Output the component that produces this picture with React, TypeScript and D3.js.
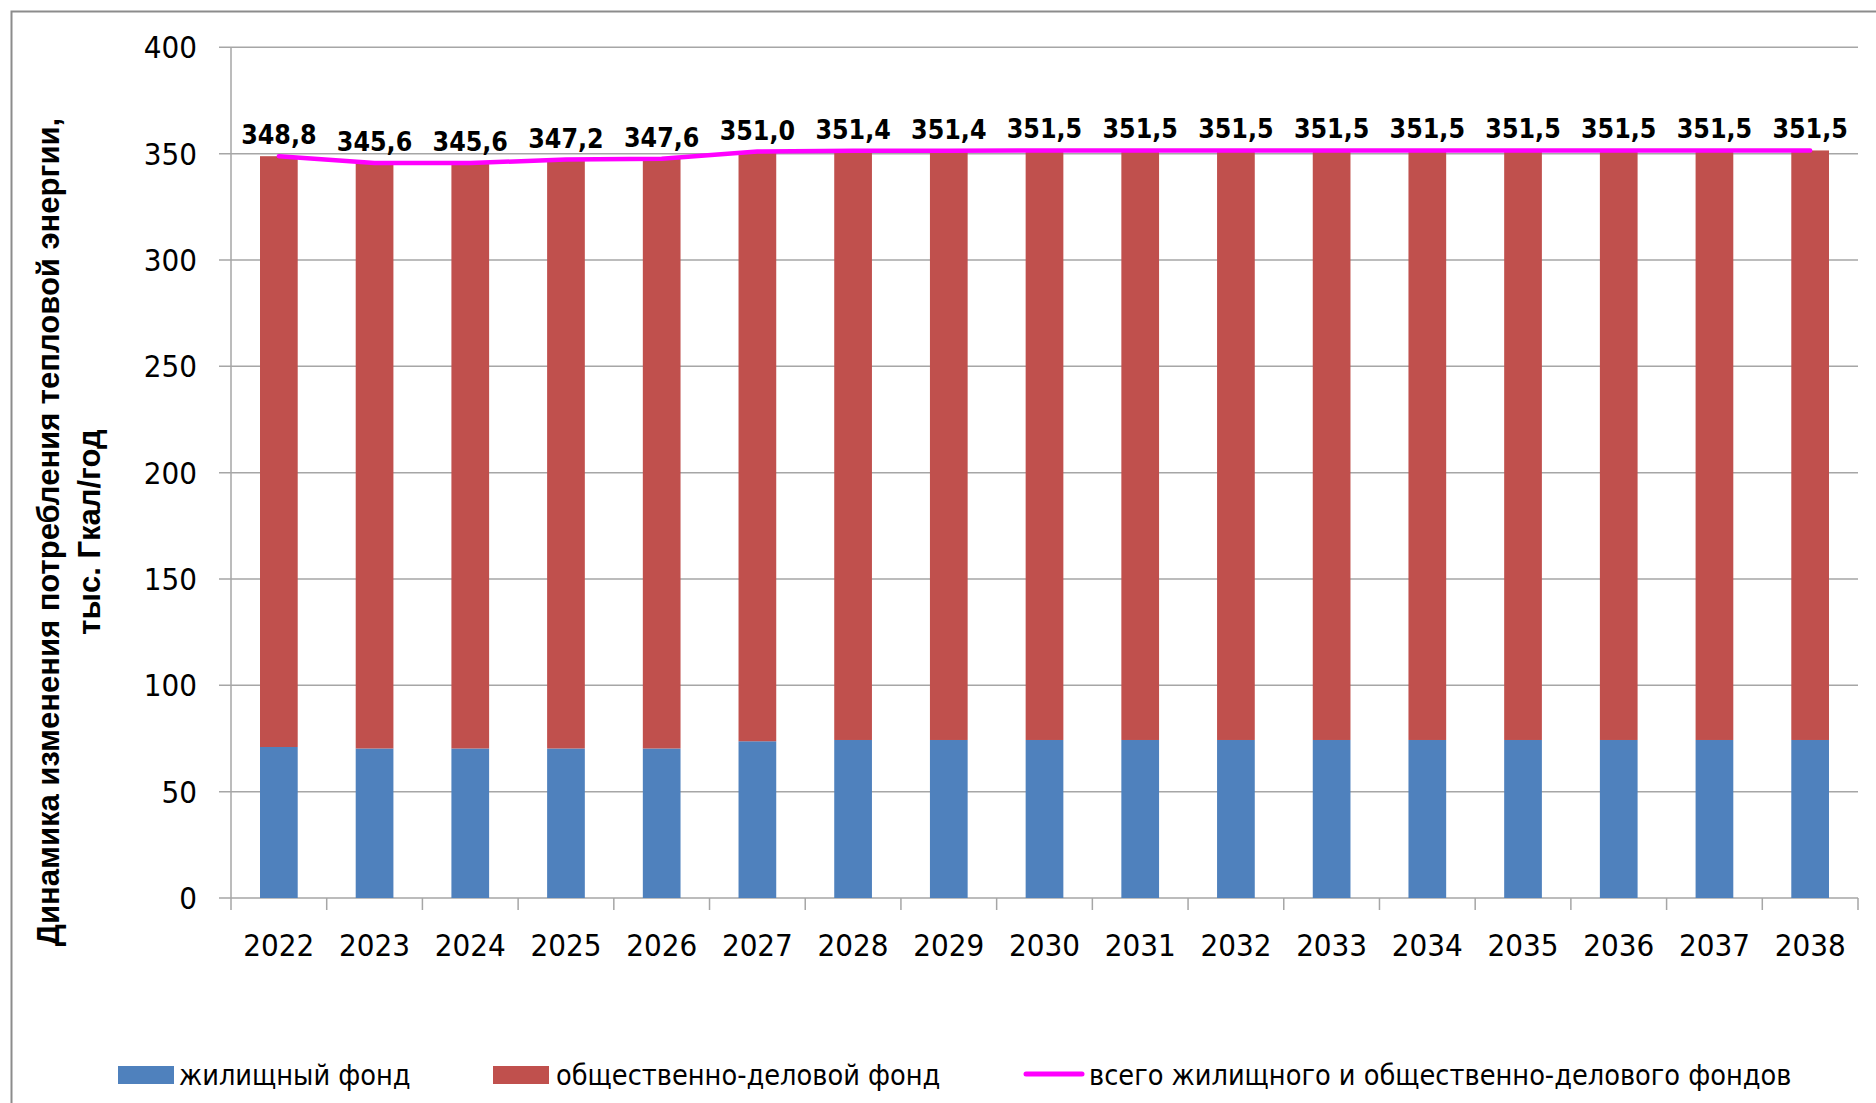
import React from "react";
import * as d3 from "d3";

const years = ["2022","2023","2024","2025","2026","2027","2028","2029","2030","2031","2032","2033","2034","2035","2036","2037","2038"];
const residential = [71.0,70.3,70.3,70.3,70.3,73.7,74.3,74.3,74.3,74.3,74.3,74.3,74.3,74.3,74.3,74.3,74.3];
const publicBusiness = [277.8,275.3,275.3,276.9,277.3,277.3,277.1,277.1,277.2,277.2,277.2,277.2,277.2,277.2,277.2,277.2,277.2];
const totals = [348.8,345.6,345.6,347.2,347.6,351.0,351.4,351.4,351.5,351.5,351.5,351.5,351.5,351.5,351.5,351.5,351.5];
const yTicks = [0,50,100,150,200,250,300,350,400];
const legendLabels = ["жилищный фонд","общественно-деловой фонд","всего жилищного и общественно-делового фондов"];
const titleLines = ["Динамика изменения потребления тепловой энергии,","тыс. Гкал/год"];

const W = 1876, H = 1103;
const BLUE = "#4F81BD", RED = "#C0504D", PINK = "#FF00FF";
const GRID = "#a6a6a6";
const COND = "'DejaVu Sans Condensed', 'DejaVu Sans', sans-serif";

export default function App() {
  const left = 231, right = 1858, top = 47.3, bottom = 898;
  const x = d3.scaleBand<string>().domain(years).range([left, right]).paddingInner(0.606).paddingOuter(0.303);
  const y = d3.scaleLinear().domain([0, 400]).range([bottom, top]);
  const step = x.step();
  const cx = (i: number) => (x(years[i]) as number) + x.bandwidth() / 2;
  const line = d3.line<number>().x((_, i) => cx(i)).y((d) => y(d));
  const fmt = (v: number) => v.toFixed(1).replace(".", ",");

  return (
    <svg width={W} height={H} style={{ position: "absolute", left: 0, top: 0, background: "#fff" }}>
      <rect x={0} y={0} width={W} height={H} fill="#fff" />
      <rect x={11.5} y={11.5} width={W + 20} height={H + 20} fill="none" stroke="#8c8c8c" strokeWidth={2} />
      {yTicks.map((t) => (
        <g key={t}>
          <line x1={left - 12} x2={right} y1={y(t)} y2={y(t)} stroke={GRID} strokeWidth={1.5} />
          <text x={197} y={y(t)} dy="0.36em" textAnchor="end" fontFamily={COND} fontSize={31} fill="#000">{t}</text>
        </g>
      ))}
      <line x1={left} x2={left} y1={top} y2={bottom} stroke={GRID} strokeWidth={1.5} />
      {years.map((yr, i) => (
        <line key={yr} x1={left + i * step} x2={left + i * step} y1={bottom} y2={bottom + 12} stroke={GRID} strokeWidth={1.5} />
      ))}
      <line x1={right} x2={right} y1={bottom} y2={bottom + 12} stroke={GRID} strokeWidth={1.5} />
      {years.map((yr, i) => (
        <g key={yr}>
          <rect x={x(yr)} width={x.bandwidth()} y={y(residential[i])} height={y(0) - y(residential[i])} fill={BLUE} />
          <rect x={x(yr)} width={x.bandwidth()} y={y(residential[i] + publicBusiness[i])} height={y(residential[i]) - y(residential[i] + publicBusiness[i])} fill={RED} />
        </g>
      ))}
      <path d={line(totals) || ""} fill="none" stroke={PINK} strokeWidth={4.5} strokeLinecap="round" strokeLinejoin="round" />
      {totals.map((v, i) => (
        <text key={i} x={cx(i)} y={y(v) - 12} textAnchor="middle" fontFamily={COND} fontWeight="bold" fontSize={26.5} fill="#000">{fmt(v)}</text>
      ))}
      {years.map((yr, i) => (
        <text key={yr} x={cx(i)} y={956} textAnchor="middle" fontFamily={COND} fontSize={31} fill="#000">{yr}</text>
      ))}
      <g transform={`translate(59, 532) rotate(-90)`}>
        <text x={0} y={0} textAnchor="middle" fontFamily="'Liberation Sans', Arial, sans-serif" fontWeight="bold" fontSize={31} fill="#000">{titleLines[0]}</text>
        <text x={0} y={41} textAnchor="middle" fontFamily="'Liberation Sans', Arial, sans-serif" fontWeight="bold" fontSize={31} fill="#000">{titleLines[1]}</text>
      </g>
      <rect x={118} y={1066} width={56} height={18} fill={BLUE} />
      <text x={179} y={1085} fontFamily={COND} fontSize={28.6} fill="#000">{legendLabels[0]}</text>
      <rect x={493} y={1066} width={56} height={18} fill={RED} />
      <text x={556} y={1085} fontFamily={COND} fontSize={28.6} fill="#000">{legendLabels[1]}</text>
      <line x1={1026} x2={1082} y1={1074} y2={1074} stroke={PINK} strokeWidth={5} strokeLinecap="round" />
      <text x={1089} y={1085} fontFamily={COND} fontSize={28.6} fill="#000">{legendLabels[2]}</text>
    </svg>
  );
}
